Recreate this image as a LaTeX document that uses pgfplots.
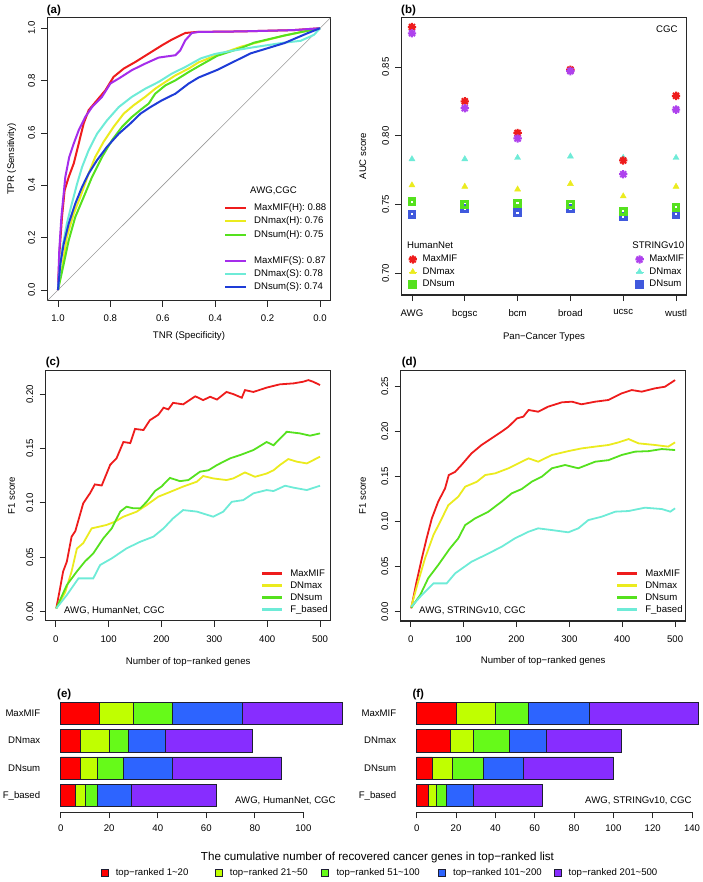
\documentclass[border=0pt]{standalone}
\usepackage{fontspec}
\setmainfont{Liberation Sans}
\usepackage{pgfplots}
\pgfplotsset{compat=1.18}

\definecolor{cRed}{RGB}{238,28,28}
\definecolor{cYel}{RGB}{235,235,30}
\definecolor{cGrn}{RGB}{85,225,30}
\definecolor{cPur}{RGB}{165,45,235}
\definecolor{cCya}{RGB}{110,235,215}
\definecolor{cBlu}{RGB}{30,60,215}
\definecolor{boxgray}{RGB}{40,40,40}
\definecolor{bRed}{RGB}{255,0,0}
\definecolor{bYg}{RGB}{192,255,0}
\definecolor{bGrn}{RGB}{102,250,25}
\definecolor{bBlu}{RGB}{45,100,255}
\definecolor{bPur}{RGB}{135,45,255}
\definecolor{barEdge}{RGB}{30,30,50}

% R pch=8 (+ and x overlaid)
\pgfdeclareplotmark{rstar}{%
  \pgfpathmoveto{\pgfqpoint{-\pgfplotmarksize}{0pt}}\pgfpathlineto{\pgfqpoint{\pgfplotmarksize}{0pt}}%
  \pgfpathmoveto{\pgfqpoint{0pt}{-\pgfplotmarksize}}\pgfpathlineto{\pgfqpoint{0pt}{\pgfplotmarksize}}%
  \pgfpathmoveto{\pgfqpoint{-0.707\pgfplotmarksize}{-0.707\pgfplotmarksize}}\pgfpathlineto{\pgfqpoint{0.707\pgfplotmarksize}{0.707\pgfplotmarksize}}%
  \pgfpathmoveto{\pgfqpoint{-0.707\pgfplotmarksize}{0.707\pgfplotmarksize}}\pgfpathlineto{\pgfqpoint{0.707\pgfplotmarksize}{-0.707\pgfplotmarksize}}%
  \pgfusepathqstroke}

\pgfplotsset{
  rbox/.style={
    scale only axis, anchor=south west, enlargelimits=false,
    axis line style={line width=1.1pt, boxgray},
    tick style={line width=0.9pt, boxgray},
    tick align=outside, major tick length=6pt, tick pos=left,
    /pgf/number format/assume math mode=true,
    xticklabel shift=5pt, yticklabel shift=3pt,
    yticklabel style={rotate=90, anchor=south},
    xlabel style={anchor=center}, ylabel style={anchor=center},
  },
  rleg/.style={
    legend style={draw=none, fill=none, inner sep=0pt, row sep=0pt,
      nodes={inner xsep=0pt, inner ysep=#1, text height=7pt, text depth=2pt},
      /tikz/every odd column/.append style={column sep=7pt}},
    legend cell align=left,
  },
  markleg/.style={legend image code/.code={\path (0pt,0pt) -- (8pt,0pt);
      \draw[##1] plot coordinates {(4pt,0pt)};}},
  sqmark/.style={only marks, mark=square, mark size=2.8pt, line width=3.2pt},
  f1leg/.style={rleg=1.5pt,
    legend image code/.code={\fill[##1] (0pt,-0.9pt) rectangle (18.3pt,0.9pt);},
    legend style={at={(axis description cs:0.758,0.2137)}, anchor=north west,
      /tikz/every odd column/.append style={column sep=8.3pt}}},
}

\begin{document}
\begin{tikzpicture}[font=\fontsize{9.6}{11.5}\selectfont]
\useasboundingbox (0,0) rectangle (702pt,-882pt);

% panel letters
\begin{scope}[font=\bfseries\fontsize{11.5}{13}\selectfont]
\node[anchor=base west, inner sep=0pt] at (46.7pt,-13.6pt) {(a)};
\node[anchor=base west, inner sep=0pt] at (401pt,-13.6pt) {(b)};
\node[anchor=base west, inner sep=0pt] at (45.7pt,-365.5pt) {(c)};
\node[anchor=base west, inner sep=0pt] at (401.7pt,-365.5pt) {(d)};
\node[anchor=base west, inner sep=0pt] at (57pt,-697.8pt) {(e)};
\node[anchor=base west, inner sep=0pt] at (412.3pt,-697.8pt) {(f)};
\end{scope}

% ---------------- (a) ROC ----------------
\begin{axis}[rbox, rleg=2.1pt,
  legend image code/.code={\draw[#1, line width=2pt] (0pt,0pt) -- (21pt,0pt);},
  at={(47.5pt,-300.5pt)}, width=283pt, height=282.7pt,
  xmin=-0.04, xmax=1.04, ymin=-0.04, ymax=1.04, x dir=reverse,
  xtick={0,0.2,...,1.0}, ytick={0,0.2,...,1.0},
  xticklabel style={/pgf/number format/fixed, /pgf/number format/fixed zerofill, /pgf/number format/precision=1},
  yticklabel style={/pgf/number format/fixed, /pgf/number format/fixed zerofill, /pgf/number format/precision=1},
  xlabel={TNR (Specificity)}, ylabel={TPR (Sensitivity)},
  xlabel style={at={(axis description cs:0.5,-0.1245)}},
  ylabel style={at={(axis description cs:-0.1265,0.5)}},
  legend style={at={(axis description cs:0.6237,0.3505)}, anchor=north west},
]
\addplot[gray!80, line width=0.6pt, forget plot] coordinates {(1.04,-0.04) (-0.04,1.04)};
\addplot[cRed, line width=2pt] coordinates {(1,0) (0.9936,0.152) (0.9847,0.279) (0.9746,0.381) (0.959,0.432) (0.94,0.483) (0.921,0.559) (0.902,0.636) (0.883,0.687) (0.851,0.725) (0.819,0.763) (0.788,0.814) (0.749,0.846) (0.705,0.871) (0.654,0.903) (0.603,0.935) (0.565,0.957) (0.514,0.982) (0.469,0.986) (0.3,0.988) (0.1,0.993) (0,1)};
\addlegendentry{MaxMIF(H): 0.88}
\addplot[cYel, line width=2pt] coordinates {(1,0) (0.982,0.1) (0.966,0.203) (0.94,0.292) (0.915,0.355) (0.883,0.445) (0.858,0.508) (0.826,0.566) (0.788,0.623) (0.749,0.674) (0.711,0.706) (0.667,0.738) (0.629,0.769) (0.59,0.795) (0.552,0.82) (0.501,0.846) (0.463,0.87) (0.4,0.895) (0.3,0.93) (0.25,0.943) (0.137,0.972) (0.05,0.99) (0,1)};
\addlegendentry{DNmax(H): 0.76}
\addplot[cGrn, line width=2pt] coordinates {(1,0) (0.978,0.1) (0.959,0.19) (0.934,0.279) (0.902,0.355) (0.87,0.432) (0.832,0.508) (0.794,0.572) (0.756,0.623) (0.718,0.661) (0.679,0.693) (0.654,0.712) (0.629,0.75) (0.59,0.782) (0.552,0.801) (0.501,0.833) (0.463,0.855) (0.392,0.895) (0.3,0.925) (0.252,0.945) (0.137,0.972) (0.05,0.99) (0,1)};
\addlegendentry{DNsum(H): 0.75}
\addlegendimage{empty legend}
\addlegendentry{}
\addplot[cPur, line width=2pt] coordinates {(1,0) (0.995,0.152) (0.987,0.279) (0.972,0.432) (0.957,0.508) (0.94,0.559) (0.921,0.61) (0.896,0.661) (0.87,0.699) (0.832,0.738) (0.8,0.789) (0.768,0.808) (0.718,0.84) (0.667,0.865) (0.616,0.888) (0.552,0.897) (0.533,0.916) (0.514,0.954) (0.489,0.982) (0.463,0.986) (0.3,0.988) (0.1,0.993) (0,1)};
\addlegendentry{MaxMIF(S): 0.87}
\addplot[cCya, line width=2pt] coordinates {(1,0) (0.985,0.152) (0.966,0.254) (0.947,0.33) (0.927,0.406) (0.908,0.47) (0.883,0.534) (0.851,0.597) (0.813,0.648) (0.768,0.699) (0.718,0.738) (0.667,0.769) (0.616,0.795) (0.565,0.827) (0.514,0.852) (0.455,0.885) (0.4,0.902) (0.33,0.915) (0.25,0.928) (0.137,0.945) (0.074,0.952) (0.023,0.975) (0,1)};
\addlegendentry{DNmax(S): 0.78}
\addplot[cBlu, line width=2pt] coordinates {(1,0) (0.991,0.1) (0.978,0.177) (0.959,0.254) (0.934,0.33) (0.908,0.394) (0.883,0.445) (0.851,0.496) (0.813,0.547) (0.768,0.597) (0.724,0.636) (0.685,0.674) (0.647,0.699) (0.603,0.725) (0.552,0.75) (0.501,0.789) (0.463,0.812) (0.392,0.841) (0.265,0.904) (0.137,0.943) (0.048,0.981) (0,1)};
\addlegendentry{DNsum(S): 0.74}
\node at (rel axis cs:0.7986,0.3884) {AWG,CGC};
\end{axis}

% ---------------- (c) F1 HumanNet ----------------
\begin{axis}[rbox, f1leg,
  at={(45.7pt,-620.9pt)}, width=284.9pt, height=250.7pt,
  xmin=-19, xmax=520, ymin=-0.0085, ymax=0.222,
  xtick={0,100,...,500}, ytick={0,0.05,0.10,0.15,0.20},
  yticklabel style={/pgf/number format/fixed, /pgf/number format/fixed zerofill, /pgf/number format/precision=2},
  xlabel={Number of top−ranked genes}, ylabel={F1 score},
  xlabel style={at={(axis description cs:0.5,-0.1627)}},
  ylabel style={at={(axis description cs:-0.1193,0.5)}},
]
\addplot[cRed, line width=1.8pt] coordinates {(1,0.003) (8,0.021) (14,0.037) (21,0.046) (30,0.069) (37,0.074) (52,0.0996) (65,0.109) (74,0.117) (87,0.116) (103,0.135) (115,0.141) (128,0.156) (141,0.155) (150,0.168) (166,0.167) (178,0.176) (194,0.181) (204,0.1875) (213,0.186) (222,0.192) (241,0.1906) (264,0.198) (279,0.1945) (292,0.1976) (305,0.195) (323,0.202) (336,0.200) (352,0.1967) (358,0.2037) (374,0.202) (399,0.206) (424,0.209) (450,0.2099) (468,0.2114) (478,0.2129) (487,0.2114) (500,0.2083)};
\addlegendentry{MaxMIF}
\addplot[cYel, line width=1.8pt] coordinates {(1,0.003) (18,0.018) (30,0.037) (40,0.058) (52,0.063) (68,0.0766) (81,0.078) (96,0.0797) (112,0.0827) (128,0.0873) (153,0.0919) (172,0.098) (194,0.1057) (216,0.110) (241,0.115) (267,0.1195) (279,0.1247) (298,0.1225) (323,0.121) (336,0.1225) (358,0.128) (377,0.124) (399,0.127) (412,0.130) (424,0.1348) (440,0.1403) (456,0.1379) (475,0.1363) (500,0.1425)};
\addlegendentry{DNmax}
\addplot[cGrn, line width=1.8pt] coordinates {(1,0.003) (21,0.0245) (40,0.037) (55,0.046) (71,0.0536) (90,0.0674) (106,0.0766) (122,0.092) (134,0.0965) (147,0.095) (160,0.095) (172,0.101) (188,0.111) (200,0.115) (216,0.123) (235,0.120) (251,0.121) (273,0.1287) (289,0.130) (305,0.1348) (330,0.141) (349,0.144) (374,0.1486) (399,0.156) (412,0.153) (437,0.1654) (462,0.1639) (481,0.1618) (500,0.1639)};
\addlegendentry{DNsum}
\addplot[cCya, line width=1.8pt] coordinates {(1,0.003) (21,0.0153) (43,0.0306) (71,0.0306) (84,0.0429) (106,0.049) (134,0.0582) (160,0.0643) (185,0.069) (204,0.0766) (222,0.0858) (241,0.0934) (267,0.092) (298,0.0873) (317,0.092) (333,0.101) (355,0.1026) (374,0.1088) (399,0.1118) (412,0.1109) (434,0.1158) (450,0.114) (475,0.1118) (500,0.1158)};
\addlegendentry{F\_based}
\node[anchor=west, inner sep=0pt] at (rel axis cs:0.0642,0.0423) {AWG, HumanNet, CGC};
\end{axis}

% ---------------- (d) F1 STRINGv10 ----------------
\begin{axis}[rbox, f1leg,
  at={(400.65pt,-621pt)}, width=285pt, height=250.8pt,
  xmin=-19, xmax=520, ymin=-0.0103, ymax=0.2677,
  xtick={0,100,...,500}, ytick={0,0.05,0.10,0.15,0.20,0.25},
  yticklabel style={/pgf/number format/fixed, /pgf/number format/fixed zerofill, /pgf/number format/precision=2},
  xlabel={Number of top−ranked genes}, ylabel={F1 score},
  xlabel style={at={(axis description cs:0.5,-0.1611)}},
  ylabel style={at={(axis description cs:-0.1332,0.5)}},
]
\addplot[cRed, line width=1.8pt] coordinates {(1,0.0037) (11,0.033) (21,0.059) (30,0.081) (40,0.1035) (52,0.122) (65,0.1367) (72,0.1515) (84,0.155) (96,0.1626) (115,0.1755) (134,0.1848) (153,0.1922) (172,0.1996) (185,0.2051) (201,0.2143) (213,0.2162) (223,0.2236) (241,0.2217) (260,0.2273) (286,0.2321) (305,0.2328) (323,0.2299) (349,0.2328) (374,0.2347) (399,0.242) (418,0.2457) (437,0.2439) (462,0.2476) (481,0.2494) (500,0.2568)};
\addlegendentry{MaxMIF}
\addplot[cYel, line width=1.8pt] coordinates {(1,0.0055) (14,0.033) (27,0.059) (43,0.085) (59,0.1035) (71,0.118) (90,0.1275) (103,0.1386) (125,0.144) (141,0.1515) (160,0.1534) (185,0.159) (210,0.1663) (223,0.170) (241,0.1663) (267,0.1737) (298,0.178) (323,0.181) (349,0.183) (374,0.1848) (393,0.1877) (412,0.1914) (431,0.1866) (462,0.1848) (487,0.183) (500,0.1877)};
\addlegendentry{DNmax}
\addplot[cGrn, line width=1.8pt] coordinates {(1,0.0044) (18,0.0185) (33,0.037) (52,0.0517) (74,0.070) (90,0.0813) (103,0.096) (122,0.1035) (147,0.1109) (172,0.122) (191,0.1312) (210,0.136) (229,0.1441) (248,0.1497) (267,0.159) (292,0.1626) (317,0.159) (349,0.1663) (374,0.168) (399,0.1737) (424,0.1774) (450,0.178) (475,0.1803) (500,0.1792)};
\addlegendentry{DNsum}
\addplot[cCya, line width=1.8pt] coordinates {(1,0.0055) (21,0.0185) (43,0.0314) (68,0.0314) (84,0.0425) (115,0.0554) (141,0.0628) (172,0.072) (197,0.0813) (223,0.0887) (241,0.0924) (267,0.0905) (298,0.088) (317,0.0924) (336,0.1016) (361,0.1053) (387,0.1109) (412,0.1116) (443,0.1153) (475,0.1138) (491,0.1109) (500,0.1146)};
\addlegendentry{F\_based}
\node[anchor=west, inner sep=0pt] at (rel axis cs:0.0644,0.0423) {AWG, STRINGv10, CGC};
\end{axis}

% ---------------- (b) AUC ----------------
\begin{axis}[rbox,
  at={(401.4pt,-295pt)}, width=285.2pt, height=277.7pt,
  xmin=0.8, xmax=6.2, ymin=0.6842, ymax=0.8861,
  xtick={1,...,6}, xticklabels={AWG,bcgsc,bcm,broad,ucsc,wustl},
  ytick={0.70,0.75,0.80,0.85},
  yticklabel style={/pgf/number format/fixed, /pgf/number format/fixed zerofill, /pgf/number format/precision=2},
  xlabel={Pan−Cancer Types}, ylabel={AUC score},
  xlabel style={at={(axis description cs:0.5,-0.1523)}},
  ylabel style={at={(axis description cs:-0.1357,0.5)}},
]
\addplot[sqmark, cBlu!85] coordinates {(1,0.743) (2,0.747) (3,0.744) (4,0.747) (5,0.741) (6,0.743)};
\addplot[sqmark, cGrn] coordinates {(1,0.752) (2,0.750) (3,0.751) (4,0.750) (5,0.745) (6,0.748)};
\addplot[only marks, mark=triangle*, mark size=3.5pt, cCya] coordinates {(1,0.783) (2,0.783) (3,0.784) (4,0.785) (5,0.784) (6,0.784)};
\addplot[only marks, mark=triangle*, mark size=3.5pt, cYel] coordinates {(1,0.764) (2,0.763) (3,0.761) (4,0.765) (5,0.756) (6,0.763)};
\addplot[only marks, mark=rstar, mark size=4.2pt, line width=2pt, cRed] coordinates {(1,0.879) (2,0.825) (3,0.802) (4,0.848) (5,0.782) (6,0.829)};
\addplot[only marks, mark=rstar, mark size=4.2pt, line width=2pt, cPur!90] coordinates {(1,0.8745) (2,0.820) (3,0.798) (4,0.847) (5,0.772) (6,0.819)};
\node[anchor=east] at (rel axis cs:0.9804,0.958) {CGC};
\node[anchor=west, inner sep=0pt] at (rel axis cs:0.0196,0.18) {HumanNet};
\node[anchor=east, inner sep=0pt] at (rel axis cs:0.992,0.18) {STRINGv10};
\end{axis}
% legend holders for (b)
\begin{axis}[rbox, hide axis, markleg, rleg=1.7pt,
  at={(401.4pt,-295pt)}, width=285.2pt, height=277.7pt,
  xmin=0.8, xmax=6.2, ymin=0.6842, ymax=0.8861,
  legend style={at={(axis description cs:0.0196,0.1509)}, anchor=north west,
    /tikz/every odd column/.append style={column sep=4.3pt}},
]
\addlegendimage{only marks, mark=rstar, mark size=4.2pt, line width=2pt, cRed}
\addlegendentry{MaxMIF}
\addlegendimage{only marks, mark=triangle*, mark size=3.5pt, cYel}
\addlegendentry{DNmax}
\addlegendimage{sqmark, cGrn}
\addlegendentry{DNsum}
\end{axis}
\begin{axis}[rbox, hide axis, markleg, rleg=1.7pt,
  at={(401.4pt,-295pt)}, width=285.2pt, height=277.7pt,
  xmin=0.8, xmax=6.2, ymin=0.6842, ymax=0.8861,
  legend style={at={(axis description cs:0.8145,0.1509)}, anchor=north west,
    /tikz/every odd column/.append style={column sep=4.3pt}},
]
\addlegendimage{only marks, mark=rstar, mark size=4.2pt, line width=2pt, cPur!90}
\addlegendentry{MaxMIF}
\addlegendimage{only marks, mark=triangle*, mark size=3.5pt, cCya}
\addlegendentry{DNmax}
\addlegendimage{sqmark, cBlu!85}
\addlegendentry{DNsum}
\end{axis}

% ---------------- (e) stacked bars HumanNet ----------------
\begin{axis}[
  at={(60.7pt,-812.3pt)}, anchor=south west, scale only axis,
  width=242.7pt, height=112.7pt,
  xmin=0, xmax=100, ymin=0.387, ymax=4.5, enlargelimits=false,
  xbar stacked, bar width=0.814, clip=false,
  axis x line*=bottom, axis y line*=left,
  x axis line style={line width=0.9pt, boxgray, -},
  y axis line style={draw=none},
  tick align=outside, major tick length=6pt,
  xtick style={line width=0.9pt, boxgray}, ytick style={draw=none},
  xtick={0,20,...,100}, ytick={1,2,3,4},
  yticklabels={F\_based,DNsum,DNmax,MaxMIF},
  yticklabel style={xshift=-11pt},
  xticklabel shift=3pt,
  /pgf/number format/assume math mode=true,
  legend columns=5,
  legend style={at={(axis description cs:0.164,-0.5386)}, anchor=west,
    draw=none, fill=none, inner sep=0pt, font=\fontsize{9.6}{11}\selectfont,
    nodes={inner xsep=0pt},
    /tikz/every odd column/.append style={column sep=7.5pt},
    /tikz/every even column/.append style={column sep=0pt}},
  legend image code/.code={\draw[#1, draw=barEdge, line width=0.6pt] (0pt,-3.5pt) rectangle (7pt,3.5pt);},
]
\addplot[fill=bRed, draw=barEdge, line width=0.7pt] coordinates {(6,1) (8,2) (8,3) (16,4)};
\addlegendentry{\makebox[99pt][l]{top−ranked 1\textasciitilde 20}}
\addplot[fill=bYg, draw=barEdge, line width=0.7pt] coordinates {(4,1) (7,2) (12,3) (14,4)};
\addlegendentry{\makebox[91.5pt][l]{top−ranked 21\textasciitilde 50}}
\addplot[fill=bGrn, draw=barEdge, line width=0.7pt] coordinates {(5,1) (11,2) (8,3) (16,4)};
\addlegendentry{\makebox[101.5pt][l]{top−ranked 51\textasciitilde 100}}
\addplot[fill=bBlu, draw=barEdge, line width=0.7pt] coordinates {(14,1) (20,2) (15,3) (29,4)};
\addlegendentry{\makebox[100.5pt][l]{top−ranked 101\textasciitilde 200}}
\addplot[fill=bPur, draw=barEdge, line width=0.7pt] coordinates {(35,1) (45,2) (36,3) (41,4)};
\addlegendentry{top−ranked 201\textasciitilde 500}
\node[anchor=west, inner sep=0pt] at (axis cs:71.8,0.825) {AWG, HumanNet, CGC};
\end{axis}

% ---------------- (f) stacked bars STRINGv10 ----------------
\begin{axis}[
  at={(416.7pt,-812.3pt)}, anchor=south west, scale only axis,
  width=275.3pt, height=112.7pt,
  xmin=0, xmax=140, ymin=0.387, ymax=4.5, enlargelimits=false,
  xbar stacked, bar width=0.814, clip=false,
  axis x line*=bottom, axis y line*=left,
  x axis line style={line width=0.9pt, boxgray, -},
  y axis line style={draw=none},
  tick align=outside, major tick length=6pt,
  xtick style={line width=0.9pt, boxgray}, ytick style={draw=none},
  xtick={0,20,...,140}, ytick={1,2,3,4},
  yticklabels={F\_based,DNsum,DNmax,MaxMIF},
  yticklabel style={xshift=-11pt},
  xticklabel shift=3pt,
  /pgf/number format/assume math mode=true,
]
\addplot[fill=bRed, draw=barEdge, line width=0.7pt] coordinates {(6,1) (8,2) (17,3) (20,4)};
\addplot[fill=bYg, draw=barEdge, line width=0.7pt] coordinates {(4,1) (10,2) (12,3) (20,4)};
\addplot[fill=bGrn, draw=barEdge, line width=0.7pt] coordinates {(5,1) (16,2) (18,3) (17,4)};
\addplot[fill=bBlu, draw=barEdge, line width=0.7pt] coordinates {(14,1) (20,2) (19,3) (31,4)};
\addplot[fill=bPur, draw=barEdge, line width=0.7pt] coordinates {(35,1) (46,2) (38,3) (55,4)};
\node[anchor=west, inner sep=0pt] at (axis cs:85.6,0.825) {AWG, STRINGv10, CGC};
\end{axis}

\node[font=\fontsize{11.6}{13}\selectfont] at (377.5pt,-857pt) {The cumulative number of recovered cancer genes in top−ranked list};
\end{tikzpicture}
\end{document}
